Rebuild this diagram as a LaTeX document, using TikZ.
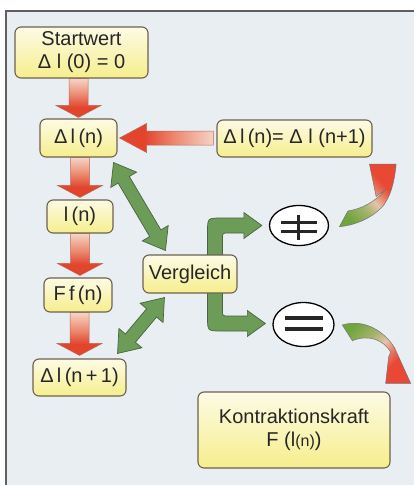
\documentclass[tikz,border=0pt]{standalone}
\usepackage{fontspec}
\setmainfont{Liberation Sans}
\usetikzlibrary{calc,shapes.geometric}
\definecolor{panelbg}{RGB}{233,238,243}
\definecolor{frame}{RGB}{95,95,95}
\definecolor{boxtop}{RGB}{253,251,230}
\definecolor{boxbot}{RGB}{246,238,140}
\definecolor{boxline}{RGB}{110,96,80}
\definecolor{rfull}{RGB}{226,68,44}
\definecolor{rmid}{RGB}{236,140,115}
\definecolor{rlight}{RGB}{246,212,198}
\definecolor{rline}{RGB}{185,105,85}
\definecolor{gfill}{RGB}{108,156,88}
\definecolor{gline}{RGB}{72,100,64}
\definecolor{cgreen}{RGB}{112,165,62}
\definecolor{cpale}{RGB}{230,196,168}
\definecolor{cred}{RGB}{232,72,52}
\pgfdeclareverticalshading{redv}{100bp}{color(0bp)=(rfull); color(25bp)=(rfull); color(38bp)=(rfull); color(55bp)=(rmid); color(75bp)=(rlight); color(100bp)=(rlight)}
\pgfdeclarehorizontalshading{redh}{100bp}{color(0bp)=(rfull); color(25bp)=(rfull); color(38bp)=(rfull); color(55bp)=(rmid); color(75bp)=(rlight); color(100bp)=(rlight)}
\pgfdeclarehorizontalshading{gtor}{100bp}{color(0bp)=(cgreen); color(25bp)=(cgreen); color(40bp)=(cgreen!55!cpale); color(50bp)=(cpale); color(60bp)=(cred!70!cpale); color(66bp)=(cred); color(100bp)=(cred)}
\pgfdeclarelayer{bg}
\pgfdeclarelayer{arr}
\pgfsetlayers{bg,arr,main}
% fat single arrow from #1 to #2: half shaft #3, half head #4, head length #5, style #6
\newcommand\fatarrow[6]{%
  \coordinate (fah) at ($(#2)!#5!(#1)$);
  \path[#6] ($(#1)!#3!90:(#2)$) -- ($(fah)!#3!90:(#2)$) -- ($(fah)!#4!90:(#2)$) -- (#2)
    -- ($(fah)!#4!-90:(#2)$) -- ($(fah)!#3!-90:(#2)$) -- ($(#1)!#3!-90:(#2)$) -- cycle;}
% fat double arrow between #1 and #2
\newcommand\dblarrow[6]{%
  \coordinate (dha) at ($(#1)!#5!(#2)$);
  \coordinate (dhb) at ($(#2)!#5!(#1)$);
  \path[#6] (#1) -- ($(dha)!#4!90:(#2)$) -- ($(dha)!#3!90:(#2)$) -- ($(dhb)!#3!-90:(#1)$)
    -- ($(dhb)!#4!-90:(#1)$) -- (#2) -- ($(dhb)!#4!90:(#1)$) -- ($(dhb)!#3!90:(#1)$)
    -- ($(dha)!#3!-90:(#2)$) -- ($(dha)!#4!-90:(#2)$) -- cycle;}
\begin{document}
\begin{tikzpicture}[x=1pt,y=-1pt,
  box/.style={draw=boxline, line width=1.1pt, rounded corners=6pt, top color=boxtop, bottom color=boxbot,
    align=center, inner sep=0pt, text=black!85, font=\fontsize{20}{23}\selectfont},
  ell/.style={ellipse, draw=black, line width=1.3pt, fill=white, inner sep=0pt},
  sym/.style={line width=3pt, black!85},
  redarr/.style={shade, shading=redv, draw=rline, line width=0.5pt},
  redarrh/.style={shade, shading=redh, draw=rline, line width=0.5pt},
  grarr/.style={fill=gfill, draw=gline, line width=0.7pt},
  curv/.style={shade, shading=gtor, draw=black!55, line width=0.5pt}]
\useasboundingbox (0,0) rectangle (414,485);
\begin{pgfonlayer}{bg}
  \fill[white] (0,0) rectangle (414,485);
  \fill[panelbg] (6,11) rectangle (420,490);
  \draw[frame, line width=1.4pt] (6,490) -- (6,11) -- (420,11);
\end{pgfonlayer}

% boxes
\node[box, minimum width=133pt, minimum height=51pt] (start) at (81.5,52.5) {Startwert\\Δ l (0) = 0};
\node[box, minimum width=77pt, minimum height=38pt] (dn) at (78.5,138) {Δ\,l\,(n)};
\node[box, minimum width=155pt, minimum height=37pt] (eq) at (294.5,138.5) {Δ\,l\,(n)= Δ l (n+1)};
\node[box, minimum width=66pt, minimum height=33pt] (ln) at (80,216.5) {l\,(n)};
\node[box, minimum width=68pt, minimum height=34pt] (ff) at (78,295) {F\,f\,(n)};
\node[box, minimum width=93pt, minimum height=37pt] (dn1) at (79.5,377.5) {Δ\,l\,(n\,+\,1)};
\node[box, minimum width=94pt, minimum height=38pt] (vg) at (190,274) {Vergleich};
\node[box, minimum width=192pt, minimum height=76pt] (kk) at (294,430) {Kontraktionskraft\\F (l{\fontsize{16}{16}\selectfont(n)})};

% comparison ellipses
\node[ell, minimum width=59pt, minimum height=40pt] (neq) at (299,225.5) {};
\node[ell, minimum width=61pt, minimum height=44pt] (eq2) at (303.5,324.5) {};
\draw[sym] ($(neq)+(-18,-3)$) -- ($(neq)+(18,-3)$);
\draw[sym] ($(neq)+(-18,6)$) -- ($(neq)+(18,6)$);
\draw[sym] ($(neq)+(-1,-10.5)$) -- ($(neq)+(-1,14.5)$);
\draw[sym, line width=3.6pt] ($(eq2)+(-19,-6.5)$) -- ($(eq2)+(19,-6.5)$);
\draw[sym, line width=3.6pt] ($(eq2)+(-19,4.5)$) -- ($(eq2)+(19,4.5)$);

\begin{pgfonlayer}{arr}
  % red downward arrows
  \coordinate (a1) at (dn.north |- start.south);
  \coordinate (b1) at ($(dn.north)+(0,-1)$);
  \fatarrow{a1}{b1}{9.5pt}{22.5pt}{12pt}{redarr}
  \coordinate (a2) at (ln.north |- dn.south);
  \coordinate (b2) at ($(ln.north)+(0,-2)$);
  \fatarrow{a2}{b2}{9.5pt}{22.5pt}{12pt}{redarr}
  \coordinate (a3) at (ln.south);
  \coordinate (b3) at ($(ln.south |- ff.north)+(0,-2)$);
  \fatarrow{a3}{b3}{9.5pt}{22.5pt}{12pt}{redarr}
  \coordinate (a4) at (dn1.north |- ff.south);
  \coordinate (b4) at ($(dn1.north)+(0,-3)$);
  \fatarrow{a4}{b4}{9.5pt}{22.5pt}{12pt}{redarr}
  % red leftward arrow
  \coordinate (a5) at ($(eq.west |- dn.east)+(-3,0)$);
  \coordinate (b5) at ($(dn.east)+(2,0)$);
  \fatarrow{a5}{b5}{7pt}{14.5pt}{27pt}{redarrh}
  % green double arrows
  \coordinate (g1a) at ($(dn.south east)+(-4,5)$);
  \coordinate (g1b) at ($(vg.north west)+(23,-4)$);
  \dblarrow{g1a}{g1b}{6.5pt}{15pt}{20pt}{grarr}
  \coordinate (g2a) at ($(dn1.north east)+(-9,-5)$);
  \coordinate (g2b) at ($(vg.south west)+(22,4)$);
  \dblarrow{g2a}{g2b}{6.5pt}{15pt}{20pt}{grarr}
  % green elbow arrows
  \coordinate (e1) at ($(vg.north)+(25,0)$);
  \coordinate (t1) at ($(neq.west)+(-7,0)$);
  \coordinate (k1) at (e1 |- t1);
  \path[grarr] ($(e1)+(-7.5,5)$) -- ($(k1)+(-7.5,6.5)$) .. controls ($(k1)+(-7.5,-7.5)$) .. ($(k1)+(6.5,-7.5)$)
    -- ($(t1)+(-18,-7.5)$) -- ($(t1)+(-18,-13)$) -- (t1) -- ($(t1)+(-18,13)$) -- ($(t1)+(-18,7.5)$)
    -- ($(k1)+(13.5,7.5)$) .. controls ($(k1)+(7.5,7.5)$) .. ($(k1)+(7.5,13.5)$) -- ($(e1)+(7.5,5)$) -- cycle;
  \coordinate (e2) at ($(vg.south)+(25,0)$);
  \coordinate (t2) at ($(eq2.west)+(-7,-1)$);
  \coordinate (k2) at (e2 |- t2);
  \path[grarr] ($(e2)+(-7.5,-5)$) -- ($(k2)+(-7.5,-6.5)$) .. controls ($(k2)+(-7.5,7.5)$) .. ($(k2)+(6.5,7.5)$)
    -- ($(t2)+(-18,7.5)$) -- ($(t2)+(-18,13)$) -- (t2) -- ($(t2)+(-18,-13)$) -- ($(t2)+(-18,-7.5)$)
    -- ($(k2)+(13.5,-7.5)$) .. controls ($(k2)+(7.5,-7.5)$) .. ($(k2)+(7.5,-13.5)$) -- ($(e2)+(7.5,-5)$) -- cycle;
  % curved gradient arrows
  \coordinate (c1) at ($(neq.east)+(0,-1.5)$);
  \path[curv, shading angle=45] ($(c1)+(10.3,2.7)$) -- ($(c1)+(18.7,-13)$)
    .. controls ($(c1)+(32,-15)$) and ($(c1)+(46,-22)$) .. ($(c1)+(56,-34)$)
    -- ($(c1)+(47,-27.5)$) -- ($(c1)+(40.3,-60)$) -- ($(c1)+(67,-60)$)
    .. controls ($(c1)+(65,-39)$) and ($(c1)+(60,-24)$) .. ($(c1)+(52,-16)$)
    .. controls ($(c1)+(42,-6)$) and ($(c1)+(27,1)$) .. ($(c1)+(10.3,2.7)$) -- cycle;
  \coordinate (c2) at ($(eq2.east)+(-1,0.5)$);
  \path[curv, shading angle=-45] ($(c2)+(8.7,0)$)
    .. controls ($(c2)+(32,-7)$) and ($(c2)+(52,8)$) .. ($(c2)+(61,23)$)
    -- ($(c2)+(77,58.3)$) -- ($(c2)+(52,58.3)$) -- ($(c2)+(55,32)$) -- ($(c2)+(57,27)$)
    .. controls ($(c2)+(50,15)$) and ($(c2)+(35,9)$) .. ($(c2)+(18.7,15.7)$) -- cycle;
\end{pgfonlayer}
\end{tikzpicture}
\end{document}
